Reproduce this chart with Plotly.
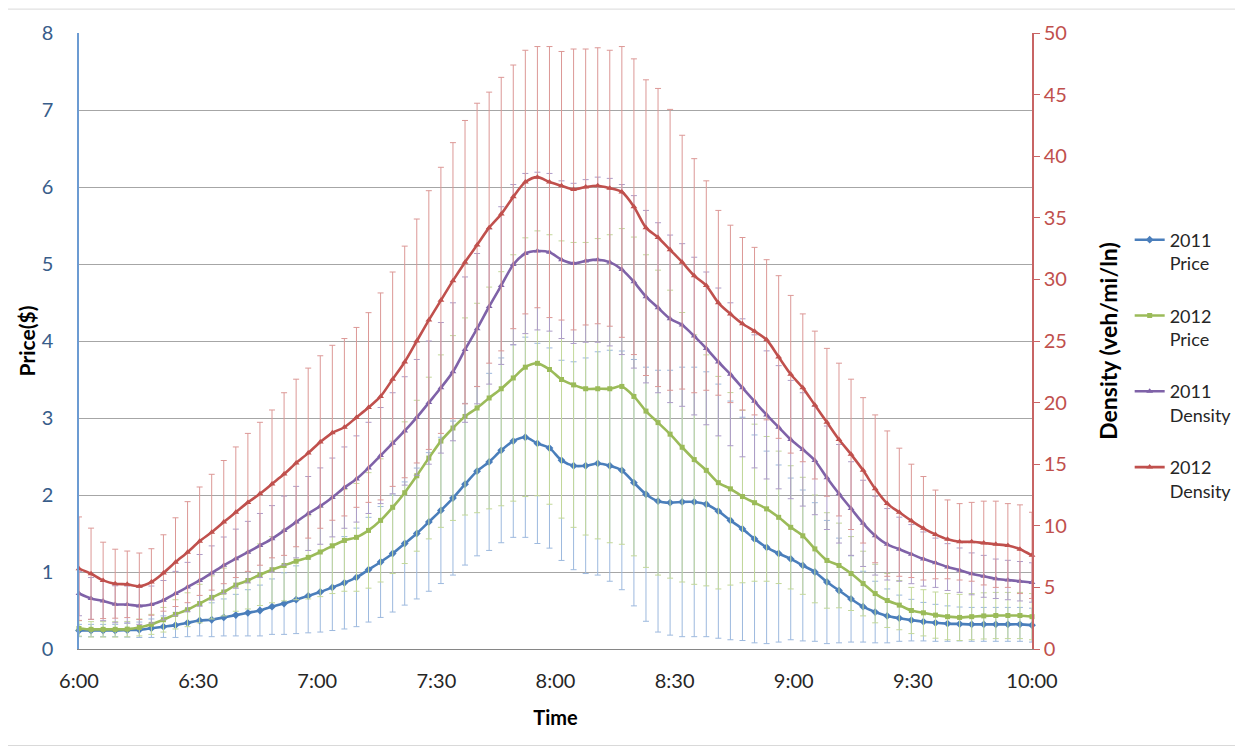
import numpy as np
import plotly.graph_objects as go

# ---- data ----
tick_labels = ["6:00", "6:30", "7:00", "7:30", "8:00", "8:30", "9:00", "9:30", "10:00"]
n_points = 80

price_2011 = [0.24, 0.24, 0.24, 0.24, 0.245, 0.25, 0.27, 0.29, 0.31, 0.34,
              0.37, 0.38, 0.41, 0.44, 0.47, 0.50, 0.55, 0.59, 0.64, 0.69,
              0.74, 0.80, 0.86, 0.93, 1.03, 1.13, 1.24, 1.37, 1.50, 1.65,
              1.80, 1.96, 2.14, 2.31, 2.43, 2.58, 2.70, 2.75, 2.67, 2.61,
              2.45, 2.38, 2.38, 2.41, 2.38, 2.32, 2.16, 2.01, 1.92, 1.90,
              1.91, 1.91, 1.88, 1.79, 1.67, 1.56, 1.43, 1.32, 1.24, 1.17,
              1.085, 1.0, 0.87, 0.76, 0.65, 0.55, 0.48, 0.43, 0.40, 0.375,
              0.355, 0.34, 0.33, 0.325, 0.32, 0.32, 0.32, 0.32, 0.32, 0.31]
price_2011_err = [0.08, 0.08, 0.08, 0.08, 0.09, 0.10, 0.12, 0.14, 0.16, 0.18,
                  0.20, 0.22, 0.24, 0.27, 0.30, 0.33, 0.36, 0.40, 0.44, 0.48,
                  0.52, 0.56, 0.60, 0.64, 0.68, 0.72, 0.76, 0.80, 0.85, 0.90,
                  0.95, 1.00, 1.05, 1.10, 1.15, 1.20, 1.25, 1.30, 1.30, 1.30,
                  1.30, 1.35, 1.40, 1.45, 1.50, 1.55, 1.60, 1.65, 1.70, 1.72,
                  1.75, 1.75, 1.72, 1.65, 1.55, 1.45, 1.35, 1.25, 1.15, 1.05,
                  0.98, 0.90, 0.80, 0.68, 0.56, 0.46, 0.40, 0.35, 0.30, 0.27,
                  0.25, 0.24, 0.23, 0.22, 0.22, 0.22, 0.22, 0.22, 0.22, 0.22]

price_2012 = [0.267, 0.255, 0.255, 0.255, 0.258, 0.28, 0.32, 0.38, 0.45, 0.51,
              0.59, 0.67, 0.74, 0.83, 0.89, 0.965, 1.03, 1.085, 1.14, 1.19,
              1.26, 1.34, 1.41, 1.45, 1.54, 1.67, 1.84, 2.03, 2.25, 2.48,
              2.70, 2.87, 3.02, 3.13, 3.26, 3.38, 3.52, 3.66, 3.71, 3.63,
              3.50, 3.43, 3.38, 3.38, 3.38, 3.41, 3.28, 3.09, 2.94, 2.79,
              2.62, 2.46, 2.32, 2.16, 2.08, 1.98, 1.90, 1.82, 1.71, 1.58,
              1.47, 1.30, 1.15, 1.085, 0.98, 0.85, 0.72, 0.63, 0.57, 0.50,
              0.47, 0.44, 0.42, 0.41, 0.42, 0.43, 0.435, 0.435, 0.435, 0.42]
price_2012_err = [0.10, 0.10, 0.10, 0.10, 0.10, 0.11, 0.13, 0.16, 0.19, 0.22,
                  0.25, 0.28, 0.31, 0.34, 0.37, 0.40, 0.43, 0.46, 0.50, 0.54,
                  0.58, 0.62, 0.66, 0.70, 0.75, 0.80, 0.86, 0.92, 0.98, 1.05,
                  1.12, 1.20, 1.28, 1.36, 1.44, 1.52, 1.60, 1.68, 1.72, 1.75,
                  1.80, 1.85, 1.90, 1.95, 2.00, 2.05, 2.07, 2.03, 1.98, 1.87,
                  1.75, 1.62, 1.50, 1.38, 1.25, 1.12, 1.02, 0.94, 0.86, 0.80,
                  0.76, 0.70, 0.62, 0.55, 0.48, 0.42, 0.38, 0.35, 0.32, 0.30,
                  0.30, 0.30, 0.30, 0.30, 0.30, 0.30, 0.30, 0.30, 0.30, 0.30]

density_2011 = [4.5, 4.1, 3.9, 3.63, 3.61, 3.5, 3.61, 3.96, 4.5, 5.03,
                5.57, 6.17, 6.79, 7.33, 7.86, 8.4, 8.94, 9.61, 10.3, 11.0,
                11.6, 12.3, 13.1, 13.8, 14.7, 15.7, 16.7, 17.7, 18.8, 20.0,
                21.2, 22.5, 24.3, 26.0, 27.8, 29.5, 31.2, 32.1, 32.3, 32.2,
                31.6, 31.3, 31.5, 31.6, 31.4, 30.8, 29.8, 28.6, 27.7, 26.8,
                26.3, 25.4, 24.4, 23.3, 22.3, 21.2, 20.1, 19.0, 18.0, 17.0,
                16.2, 15.3, 13.9, 12.6, 11.4, 10.2, 9.2, 8.5, 8.1, 7.7,
                7.3, 7.0, 6.65, 6.4, 6.1, 5.9, 5.7, 5.6, 5.5, 5.4]
density_2011_err = [1.8, 1.7, 1.6, 1.5, 1.5, 1.5, 1.5, 1.6, 1.8, 2.0,
                    2.1, 2.2, 2.3, 2.4, 2.5, 2.6, 2.7, 2.8, 2.9, 3.0,
                    3.1, 3.2, 3.3, 3.5, 3.7, 3.9, 4.1, 4.4, 4.7, 5.0,
                    5.3, 5.6, 5.9, 6.1, 6.3, 6.4, 6.5, 6.5, 6.4, 6.4,
                    6.4, 6.5, 6.6, 6.7, 6.8, 6.9, 7.0, 7.0, 6.9, 6.8,
                    6.6, 6.4, 6.2, 6.0, 5.8, 5.6, 5.4, 5.2, 5.0, 4.8,
                    4.6, 4.4, 4.2, 4.0, 3.8, 3.5, 3.2, 2.9, 2.6, 2.4,
                    2.2, 2.0, 1.9, 1.8, 1.7, 1.7, 1.6, 1.6, 1.6, 1.6]

density_2012 = [6.52, 6.11, 5.57, 5.3, 5.25, 5.09, 5.44, 6.17, 7.05, 7.86,
                8.75, 9.48, 10.3, 11.1, 11.9, 12.6, 13.4, 14.2, 15.1, 15.9,
                16.8, 17.55, 18.0, 18.8, 19.6, 20.5, 21.9, 23.3, 25.0, 26.7,
                28.3, 29.9, 31.4, 32.8, 34.2, 35.3, 36.7, 37.9, 38.3, 37.9,
                37.6, 37.3, 37.5, 37.6, 37.4, 37.1, 35.9, 34.2, 33.4, 32.4,
                31.4, 30.3, 29.5, 28.1, 27.2, 26.4, 25.8, 25.1, 23.7, 22.3,
                21.2, 19.8, 18.4, 17.0, 15.8, 14.5, 13.0, 11.8, 11.1, 10.4,
                9.8, 9.3, 8.9, 8.7, 8.7, 8.6, 8.5, 8.4, 8.1, 7.6]
density_2012_err = [4.2, 3.7, 3.1, 2.8, 2.7, 2.7, 2.7, 3.1, 3.6, 4.1,
                    4.4, 4.7, 5.0, 5.3, 5.6, 5.8, 6.0, 6.6, 6.8, 6.9,
                    7.0, 7.1, 7.2, 7.3, 7.7, 8.4, 8.7, 9.4, 9.9, 10.5,
                    10.8, 11.2, 11.5, 11.5, 11.0, 11.1, 10.7, 10.7, 10.6, 11.0,
                    10.9, 11.4, 11.2, 11.2, 11.2, 11.8, 12.0, 12.0, 12.1, 11.4,
                    10.3, 9.5, 8.5, 7.5, 7.2, 7.0, 6.8, 6.5, 6.6, 6.4,
                    6.0, 6.0, 6.0, 6.2, 6.1, 5.9, 6.0, 5.9, 5.2, 4.6,
                    4.2, 3.6, 3.2, 3.1, 3.2, 3.4, 3.5, 3.4, 3.6, 3.5]

x = list(range(n_points))
tick_positions = np.linspace(0, n_points - 1, len(tick_labels))

FONT = "Lato"

series = [
    ("2011<br>Price", price_2011, price_2011_err, "#4A7EBB", "#9DB9DE", "diamond", 6, "y"),
    ("2012<br>Price", price_2012, price_2012_err, "#9BBB59", "#C3D89A", "square", 5, "y"),
    ("2011<br>Density", density_2011, density_2011_err, "#7F62A8", "#AD9CC8", "triangle-up", 6, "y2"),
    ("2012<br>Density", density_2012, density_2012_err, "#C0504D", "#DC9896", "triangle-up", 6, "y2"),
]

fig = go.Figure()
for k, (name, vals, errs, col, ecol, sym, msize, yax) in enumerate(series):
    fig.add_trace(go.Scatter(
        x=x, y=vals, name=name, yaxis=yax, mode="lines+markers",
        legendgroup=f"g{k}",
        line=dict(color=col, width=2.6, shape="spline", smoothing=0.8),
        marker=dict(symbol=sym, size=msize, color=col),
        error_y=dict(type="data", array=errs, symmetric=True,
                     color=ecol, thickness=1, width=3),
        cliponaxis=False,
    ))

fig.update_layout(
    width=1243, height=751,
    margin=dict(l=71, r=219, t=22, b=110),
    paper_bgcolor="white", plot_bgcolor="white",
    font=dict(family=FONT, size=20, color="#262626"),
    showlegend=True,
    legend=dict(x=1.1025, xanchor="left", y=0.694, yanchor="top",
                font=dict(family=FONT, size=18, color="#262626"),
                traceorder="grouped", tracegroupgap=26, valign="top",
                bgcolor="rgba(0,0,0,0)", itemwidth=30),
    xaxis=dict(
        range=[0, n_points - 1], tickvals=tick_positions, ticktext=tick_labels,
        showgrid=False, zeroline=False, showline=True, linecolor="#868686", linewidth=1,
        ticks="", ticklabelstandoff=14,
        tickfont=dict(family=FONT, size=20, color="#262626"),
        title=dict(text="<b>Time</b>", font=dict(family=FONT, size=20, color="#000000"), standoff=19),
    ),
    yaxis=dict(
        range=[0, 8], dtick=1, showgrid=True, gridcolor="#A6A6A6", gridwidth=1,
        zeroline=False, showline=True, linecolor="#6C9BD2", linewidth=1.5, ticks="",
        ticklabelstandoff=20,
        tickfont=dict(family=FONT, size=20, color="#385D8A"),
        title=dict(text="<b>Price($)</b>", font=dict(family=FONT, size=21, color="#000000"), standoff=0),
    ),
    yaxis2=dict(
        range=[0, 50], dtick=5, overlaying="y", side="right", showgrid=False,
        zeroline=False, showline=True, linecolor="#C86464", linewidth=1.5,
        ticks="outside", ticklen=6, tickcolor="#C86464",
        tickfont=dict(family=FONT, size=20, color="#C0504D"),
        title=dict(text="<b>Density (veh/mi/ln)</b>", font=dict(family=FONT, size=23, color="#000000"), standoff=35),
    ),
    shapes=[dict(type="rect", xref="paper", yref="paper",
                 x0=-0.0756, x1=1.2172, y0=-0.1567, y1=1.0388,
                 line=dict(color="#D9D9D9", width=1), layer="below")],
)

fig.write_html("out.html")
